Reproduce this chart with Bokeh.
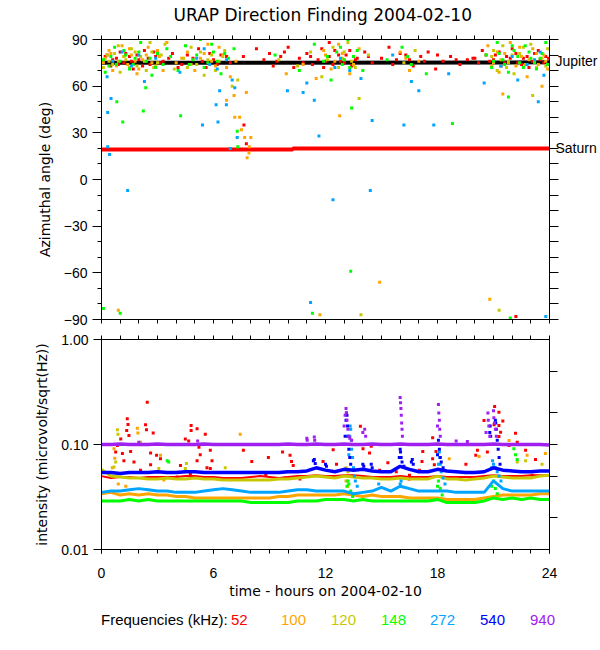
from bokeh.plotting import figure
from bokeh.models import FixedTicker, LinearAxis, LogAxis, PrintfTickFormatter, Div
from bokeh.core.properties import value
from bokeh.layouts import column
from bokeh.embed import file_html
from bokeh.resources import INLINE

FONT = "Liberation Sans"
WIDE = "DejaVu Sans"

# ---------------- data ----------------
title_text = "URAP Direction Finding  2004-02-10"
legend_title = "Frequencies (kHz):"
freq_labels = ["52", "100", "120", "148", "272", "540", "940"]
freq_colors = ["#ff0000", "#ffa500", "#c8c800", "#00ff00", "#00a5ff", "#0000ff", "#a020f0"]

# source directions (deg)
source_names = {76: "Jupiter", 20: "Saturn"}
jupiter_t = [0, 24]
jupiter_az = [75.0, 75.3]
saturn_t = [0, 10.25, 10.25, 24]
saturn_az = [19.3, 19.3, 20.0, 20.0]

# direction-finding points per frequency
az52_t = [0.1,0.3,0.5,0.8,1.0,1.2,1.5,1.7,2.0,2.3,2.6,2.9,3.3,3.8,4.3,4.9,5.2,5.6,6.0,6.4,6.9,7.6,8.3,8.7,9.2,9.6,10.0,10.3,10.6,11.0,11.3,11.6,11.9,12.2,12.5,12.8,13.1,13.4,13.7,14.1,14.5,15.0,15.4,15.8,16.3,16.7,17.1,17.5,17.9,18.3,18.7,19.2,19.6,20.0,20.4,20.8,21.1,21.4,21.7,22.0,22.3,22.6,22.9,23.2,23.5,23.8,7.63,7.76,22.2,12.2,9.0,19.9,
          0.2,0.6,0.9,1.3,1.6,1.9,2.2,2.5,2.8,3.1,3.6,4.1,4.6,5.4,5.8,6.2,6.7,9.4,9.8,10.8,11.2,11.8,12.0,12.4,12.7,13.0,13.3,13.6,14.3,15.6,16.0,16.5,17.3,18.0,19.0,20.2,20.6,21.0,21.3,21.6,21.9,22.2,22.5,22.8,23.1,23.4,23.7,23.95]
az52_a = [76,80,73,78,82,75,79,71,77,83,74,79,76,81,74,78,84,72,77,80,75,79,84,77,73,79,85,72,78,81,74,77,72,79,83,76,80,73,78,82,75,78,85,77,80,73,79,82,71,76,79,74,77,78,83,76,80,73,79,84,75,78,72,81,77,79,35,23,-88,88,81,78,
          79,77,74,81,76,80,73,78,82,75,78,72,80,76,81,74,79,76,82,75,79,84,76,74,80,75,83,77,79,74,81,77,76,80,77,75,80,77,82,75,78,81,74,79,76,83,75,78]
az100_t = [0.2,0.4,0.6,0.9,1.1,1.4,1.6,1.9,2.2,2.5,2.8,3.1,3.5,4.0,4.6,5.0,5.3,5.7,6.1,6.5,6.9,7.2,9.9,10.8,11.5,12.0,12.3,12.7,13.0,13.3,13.8,16.0,16.5,17.0,20.7,21.0,21.3,21.6,21.9,22.2,22.5,22.8,23.1,23.4,23.7,23.9,6.7,7.14,7.4,7.5,7.67,8.0,7.92,7.9,7.8,7.76,7.1,12.76,21.5,23.6,14.9,0.9,11.7,20.8,
           0.1,0.5,0.8,1.2,1.5,1.8,2.0,2.4,2.7,3.0,3.3,4.3,4.8,5.5,5.9,6.3,6.7,11.9,12.5,12.9,13.5,16.3,20.9,21.2,21.8,22.4,22.9,23.3,23.8]
az100_a = [78,83,70,76,86,74,80,68,77,85,72,79,88,75,82,70,78,87,73,80,66,76,68,74,65,80,71,87,77,68,84,82,70,76,86,75,69,81,88,73,79,66,84,74,80,71,51,40,40,32,27,27,21,17,14,56,54,41,55,60,-66,-84,-87,-77,
           75,81,73,79,84,76,71,80,75,83,70,78,74,81,76,85,72,83,76,81,74,78,73,82,75,85,77,81,76]
az120_t = [0.1,0.4,0.7,1.0,1.3,1.6,1.9,2.1,2.4,2.7,3.0,3.4,3.9,4.4,4.8,5.1,5.5,5.9,6.3,6.6,7.0,7.3,9.5,10.5,11.2,11.8,12.4,12.9,13.2,13.6,14.3,16.2,16.8,20.9,21.2,21.5,21.8,22.1,22.4,22.7,23.0,23.3,23.6,23.9,13.8,23.1,21.3,13.9,
           0.3,0.6,0.9,1.2,1.5,1.8,2.3,2.6,2.9,3.2,4.6,5.3,5.7,6.1,6.5,12.1,12.7,13.0,13.4,21.0,21.4,21.7,22.0,22.6,23.2,23.8]
az120_a = [72,76,81,69,77,84,73,79,70,82,75,87,71,78,85,74,67,80,76,83,60,64,77,73,82,66,85,78,88,72,80,75,83,79,70,86,76,68,81,74,87,72,78,84,52,54,-84,-87,
           80,74,86,79,72,82,76,88,73,80,72,82,77,70,79,77,72,82,76,83,77,72,80,85,76,73]
az148_t = [0.2,0.5,0.8,1.2,1.5,1.8,2.1,2.4,2.7,3.0,3.3,3.7,4.1,4.5,4.9,5.3,5.7,6.0,6.4,6.8,7.1,9.3,10.6,11.4,11.9,12.3,12.6,12.9,13.2,13.5,14.0,15.3,16.1,16.6,17.4,20.6,20.9,21.2,21.5,21.8,22.1,22.4,22.7,23.0,23.3,23.6,23.9,0.82,1.14,2.24,2.37,4.24,7.27,7.3,13.4,18.8,21.8,13.35,0.1,1.0,11.3,21.9,
           0.1,0.4,0.7,1.0,1.3,1.7,2.0,2.6,2.9,3.5,4.7,5.1,5.5,5.9,6.2,6.6,12.1,12.8,13.0,13.3,13.7,16.4,21.0,21.3,21.6,22.0,22.3,22.6,22.9,23.2,23.5,23.8]
az148_a = [69,79,74,83,71,78,88,76,67,81,74,79,70,86,77,90,75,82,68,78,84,80,70,87,76,64,82,74,90,79,70,77,85,74,68,80,72,88,77,69,83,75,86,78,71,81,74,50,37,44,59,41,31,21,46,36,53,-59,-83,-86,-86,-89,
           77,73,85,76,80,74,82,78,72,84,74,80,72,87,76,81,79,85,77,72,83,79,76,81,74,86,79,72,82,75,78,88]
az272_t = [0.3,1.1,1.6,2.3,2.9,4.2,5.5,6.2,6.7,7.0,11.0,12.5,13.9,15.6,18.6,20.5,21.4,22.3,23.2,23.7,0.33,0.43,0.33,0.51,1.4,5.41,6.24,6.14,6.69,6.33,7.14,7.27,6.9,9.96,10.8,11.4,11.65,12.4,14.4,14.5,16.2,16.6,17.0,17.8,23.4,11.2,23.8,
           0.6,2.0,5.1,5.8,12.8,13.3,22.0,22.8,23.5]
az272_a = [66,82,73,63,78,69,84,71,77,64,62,72,65,80,68,62,73,64,77,67,21,16,43,52,-7,35,37,48,48,57,59,27,20,57,56,51,28,-13,-7,38,35,63,57,35,50,-79,-88,
           76,80,78,74,78,70,79,74,82]

# intensity baselines, every half hour
t_base = [0,0.5,1,1.5,2,2.5,3,3.5,4,4.5,5,5.5,6,6.5,7,7.5,8,8.5,9,9.5,10,10.5,11,11.5,12,12.5,13,13.5,14,14.5,15,15.5,16,16.5,17,17.5,18,18.5,19,19.5,20,20.5,21,21.5,22,22.5,23,23.5,24]
base52 = [0.050,0.048,0.049,0.049,0.048,0.049,0.049,0.049,0.049,0.050,0.050,0.049,0.049,0.048,0.048,0.048,0.049,0.050,0.049,0.048,0.049,0.050,0.050,0.051,0.050,0.050,0.051,0.051,0.050,0.049,0.049,0.049,0.050,0.049,0.049,0.049,0.050,0.049,0.049,0.049,0.049,0.050,0.051,0.050,0.050,0.050,0.051,0.051,0.051]
base100 = [0.034,0.035,0.033,0.034,0.033,0.034,0.033,0.033,0.032,0.032,0.031,0.031,0.031,0.031,0.031,0.031,0.031,0.031,0.031,0.032,0.032,0.033,0.033,0.033,0.033,0.033,0.034,0.033,0.032,0.033,0.032,0.032,0.032,0.031,0.031,0.031,0.031,0.030,0.030,0.030,0.030,0.031,0.032,0.033,0.033,0.033,0.033,0.034,0.034]
base120 = [0.058,0.050,0.049,0.048,0.048,0.047,0.047,0.048,0.047,0.047,0.048,0.047,0.047,0.046,0.046,0.046,0.046,0.046,0.046,0.047,0.047,0.048,0.049,0.050,0.049,0.048,0.050,0.049,0.048,0.048,0.047,0.047,0.048,0.047,0.047,0.047,0.050,0.047,0.047,0.046,0.047,0.048,0.050,0.049,0.048,0.048,0.048,0.050,0.051]
base148 = [0.029,0.029,0.029,0.030,0.029,0.030,0.029,0.029,0.029,0.029,0.029,0.029,0.029,0.029,0.029,0.029,0.028,0.028,0.028,0.028,0.028,0.029,0.029,0.029,0.030,0.030,0.030,0.029,0.030,0.029,0.029,0.029,0.029,0.029,0.029,0.029,0.030,0.028,0.028,0.028,0.028,0.029,0.031,0.030,0.031,0.030,0.031,0.030,0.030]
base272 = [0.035,0.036,0.036,0.037,0.038,0.037,0.036,0.036,0.035,0.035,0.035,0.036,0.037,0.038,0.037,0.036,0.035,0.035,0.035,0.035,0.036,0.037,0.037,0.036,0.036,0.036,0.036,0.034,0.035,0.036,0.039,0.036,0.040,0.038,0.036,0.036,0.036,0.036,0.035,0.035,0.035,0.035,0.045,0.038,0.036,0.036,0.036,0.036,0.036]
base540 = [0.054,0.054,0.053,0.054,0.054,0.054,0.055,0.054,0.054,0.055,0.055,0.054,0.054,0.054,0.054,0.054,0.054,0.054,0.054,0.054,0.055,0.055,0.056,0.060,0.057,0.055,0.058,0.057,0.058,0.056,0.055,0.055,0.062,0.058,0.055,0.055,0.058,0.056,0.055,0.054,0.054,0.055,0.060,0.057,0.056,0.055,0.055,0.056,0.056]
base940 = [0.100,0.100,0.101,0.100,0.100,0.100,0.101,0.100,0.100,0.100,0.100,0.101,0.100,0.100,0.100,0.100,0.100,0.100,0.100,0.100,0.101,0.100,0.100,0.101,0.100,0.100,0.101,0.100,0.100,0.101,0.100,0.100,0.101,0.100,0.100,0.100,0.101,0.100,0.100,0.100,0.100,0.100,0.101,0.100,0.100,0.100,0.100,0.100,0.099]

# intensity outliers / bursts
pk52_t = [2.45,1.38,1.42,2.36,2.41,1.35,2.77,1.47,1.03,0.85,0.76,1.12,1.56,2.63,2.95,1.2,1.74,2.63,2.09,3.16,4.23,4.8,4.8,5.12,5.56,4.49,4.67,5.22,5.29,5.12,5.83,5.92,5.65,7.6,8.05,8.94,9.7,10.1,10.18,10.27,4.05,4.76,5.83,8.8,9.83,10.63,13.87,12.41,11.87,12.59,14.01,14.45,14.36,15.34,15.79,17.21,17.74,17.92,17.74,14.9,16.5,21.06,21.29,21.5,21.29,21.03,20.49,21.38,21.29,22.18,20.67,20.14,20.05,19.52,17.83,17.17,17.03,23.25,23.07,22.27,22.72,21.83,16.49,22.0]
pk52_v = [0.253,0.176,0.155,0.154,0.138,0.136,0.129,0.122,0.113,0.098,0.085,0.082,0.086,0.083,0.079,0.070,0.068,0.064,0.057,0.073,0.063,0.152,0.136,0.141,0.125,0.113,0.108,0.094,0.080,0.070,0.088,0.070,0.060,0.088,0.069,0.075,0.085,0.079,0.069,0.063,0.049,0.053,0.059,0.051,0.048,0.047,0.149,0.089,0.069,0.065,0.091,0.096,0.083,0.067,0.055,0.086,0.116,0.086,0.073,0.057,0.051,0.230,0.203,0.167,0.152,0.154,0.169,0.131,0.119,0.128,0.085,0.088,0.079,0.065,0.064,0.069,0.057,0.072,0.051,0.105,0.088,0.098,0.047,0.049]
pk100_t = [0.64,0.67,0.71,1.92,1.95,3.16,7.43,0.58,3.34,0.9,1.3,21.83,23.78,22.8,18.63,20.23,13.1,13.2]
pk100_v = [0.100,0.091,0.074,0.143,0.129,0.079,0.125,0.060,0.046,0.042,0.040,0.109,0.082,0.079,0.073,0.077,0.045,0.040]
pk120_t = [0.85,0.88,2.09,0.76,0.67,4.55,4.49,6.63,3.07,22.72,22.27,23.6,13.1,13.2]
pk120_v = [0.138,0.125,0.105,0.068,0.061,0.066,0.059,0.060,0.059,0.070,0.068,0.065,0.060,0.055]
pk148_t = [3.52,3.6,13.15,13.2,13.25,13.35,13.45,18.0,18.05,18.15,18.25,20.9,21.0,21.1,21.2,22.09,22.18,22.27]
pk148_v = [0.070,0.068,0.040,0.045,0.042,0.036,0.032,0.040,0.045,0.038,0.033,0.040,0.045,0.038,0.034,0.091,0.080,0.072]
pk272_t = [13.25,13.3,13.32,13.35,13.38,13.4,13.45,13.5,13.55,13.6,13.7,18.05,18.1,18.12,18.15,18.2,18.3,18.4,20.9,20.95,21.0,21.1,21.2,21.3,21.4,16.0,16.05,14.85]
pk272_v = [0.080,0.120,0.150,0.140,0.110,0.090,0.075,0.060,0.050,0.045,0.040,0.065,0.085,0.075,0.065,0.055,0.048,0.042,0.060,0.070,0.065,0.060,0.055,0.050,0.045,0.042,0.045,0.042]
pk540_t = [11.35,11.4,11.45,12.0,12.05,13.05,13.1,13.12,13.15,13.18,13.2,13.25,13.3,13.35,14.0,14.05,14.45,14.5,15.95,16.0,16.02,16.05,16.1,16.2,16.6,16.65,16.7,18.0,18.05,18.08,18.1,18.15,18.2,18.3,20.75,20.8,20.82,20.85,21.1,21.12,21.15,21.2,21.25,21.3,21.35]
pk540_v = [0.070,0.072,0.066,0.065,0.062,0.120,0.170,0.200,0.190,0.150,0.120,0.090,0.075,0.065,0.065,0.062,0.065,0.060,0.075,0.090,0.085,0.075,0.068,0.062,0.068,0.072,0.065,0.080,0.110,0.100,0.090,0.075,0.068,0.060,0.100,0.130,0.150,0.120,0.170,0.160,0.140,0.110,0.090,0.075,0.065]
pk940_t = [13.0,13.05,13.1,13.12,13.15,13.2,13.25,13.3,13.4,11.0,11.02,11.4,11.42,14.0,14.1,14.15,16.0,16.02,16.04,16.06,16.08,16.1,16.12,18.0,18.05,18.07,18.1,18.12,18.15,20.6,20.7,20.72,20.75,20.8,21.0,21.02,21.05,21.1,21.15,19.0,19.6,5.15,2.0]
pk940_v = [0.150,0.190,0.220,0.200,0.170,0.140,0.120,0.115,0.110,0.115,0.110,0.118,0.110,0.130,0.140,0.120,0.280,0.250,0.220,0.190,0.160,0.140,0.120,0.150,0.240,0.200,0.170,0.140,0.120,0.130,0.200,0.170,0.150,0.120,0.210,0.180,0.160,0.140,0.120,0.108,0.107,0.108,0.105]

hour_ticks = [0, 6, 12, 18, 24]
hour_minor = list(range(25))
az_ticks = [-90, -60, -30, 0, 30, 60, 90]
az_minor = [-80, -70, -50, -40, -20, -10, 10, 20, 40, 50, 70, 80]
az_right = [-90, -80, -70, -60, -50, -40, -30, -20, -10, 0, 10, 20, 30, 40, 50, 60, 70, 80, 90]
int_ticks = [0.01, 0.1, 1.0]
int_minor_right = [0.02, 0.05, 0.1, 0.2, 0.5]


def style_axis(ax):
    ax.axis_line_color = "black"
    ax.major_tick_line_color = "black"
    ax.minor_tick_line_color = "black"
    ax.major_tick_in = 0
    ax.minor_tick_in = 0
    ax.major_label_text_font = FONT
    ax.major_label_text_font_size = "14px"
    ax.major_label_text_color = "black"
    ax.axis_label_text_font = WIDE
    ax.axis_label_text_font_size = "14px"
    ax.axis_label_text_font_style = "normal"
    ax.axis_label_text_color = "black"


def bare_axis(cls, ticks, out):
    ax = cls(ticker=FixedTicker(ticks=[], minor_ticks=ticks))
    style_axis(ax)
    ax.minor_tick_out = out
    return ax


# ---------------- title strip ----------------
p0 = figure(width=600, height=28, x_range=(0, 24), y_range=(0, 1),
            toolbar_location=None, output_backend="svg",
            min_border_left=101, min_border_right=49, min_border_top=0, min_border_bottom=0,
            x_axis_location=None, y_axis_location=None)
p0.grid.visible = False
p0.outline_line_color = None
p0.text(x=[12], y=[0.5], text=[title_text], text_align="center", text_baseline="middle",
        text_font=value(WIDE), text_font_size="17px", text_color="black")

# ---------------- top panel ----------------
p1 = figure(width=600, height=301, x_range=(0, 24), y_range=(-90, 90),
            toolbar_location=None, output_backend="svg",
            min_border_left=101, min_border_right=49, min_border_top=11, min_border_bottom=10,
            x_axis_location=None)
p1.grid.visible = False
p1.outline_line_color = "black"

ly = p1.yaxis[0]
ly.ticker = FixedTicker(ticks=az_ticks, minor_ticks=az_minor)
style_axis(ly)
ly.major_tick_out = 9
ly.minor_tick_out = 4
ly.major_label_standoff = 5
ly.axis_label = "Azimuthal angle (deg)"
ly.axis_label_standoff = 8

ry = LinearAxis(ticker=FixedTicker(ticks=list(source_names.keys()), minor_ticks=az_right))
style_axis(ry)
ry.major_tick_out = 0
ry.minor_tick_out = 9
ry.major_label_standoff = -3
ry.major_label_overrides = source_names
p1.add_layout(ry, "right")
p1.add_layout(bare_axis(LinearAxis, hour_minor, 4), "above")
p1.add_layout(bare_axis(LinearAxis, hour_minor, 4), "below")

p1.line(jupiter_t, jupiter_az, line_color="black", line_width=4)
p1.line(saturn_t, saturn_az, line_color="#ff0000", line_width=4)

for tt, aa, col in [(az52_t, az52_a, freq_colors[0]), (az100_t, az100_a, freq_colors[1]),
                    (az120_t, az120_a, freq_colors[2]), (az148_t, az148_a, freq_colors[3]),
                    (az272_t, az272_a, freq_colors[4])]:
    p1.scatter(tt, aa, marker="square", size=3, fill_color=col, line_color=None)

# ---------------- bottom panel ----------------
p2 = figure(width=600, height=280, x_range=(0, 24), y_range=(0.01, 1.0), y_axis_type="log",
            toolbar_location=None, output_backend="svg",
            min_border_left=101, min_border_right=49, min_border_top=10, min_border_bottom=60)
p2.grid.visible = False
p2.outline_line_color = "black"

by = p2.yaxis[0]
by.ticker = FixedTicker(ticks=int_ticks, minor_ticks=[])
by.formatter = PrintfTickFormatter(format="%.2f")
style_axis(by)
by.major_tick_out = 8
by.major_label_standoff = 5
by.axis_label = "intensity (microvolt/sqrt(Hz))"
by.axis_label_standoff = 8

bx = p2.xaxis[0]
bx.ticker = FixedTicker(ticks=hour_ticks, minor_ticks=hour_minor)
style_axis(bx)
bx.major_tick_out = 4
bx.minor_tick_out = 4
bx.major_label_standoff = 14
bx.axis_label = "time - hours on 2004-02-10"
bx.axis_label_standoff = 2

p2.add_layout(bare_axis(LogAxis, int_minor_right, 8), "right")
p2.add_layout(bare_axis(LinearAxis, hour_minor, 4), "above")

bases = [base52, base100, base120, base148, base272, base540, base940]
peaks = [(pk52_t, pk52_v), (pk100_t, pk100_v), (pk120_t, pk120_v), (pk148_t, pk148_v),
         (pk272_t, pk272_v), (pk540_t, pk540_v), (pk940_t, pk940_v)]
widths = [2, 3, 3, 3, 3, 3.5, 3.5]
for b, (pt, pv), col, w in zip(bases, peaks, freq_colors, widths):
    p2.line(t_base, b, line_color=col, line_width=w)
    p2.scatter(pt, pv, marker="square", size=3, fill_color=col, line_color=None)

# ---------------- frequency legend ----------------
leg_left = [231, 281, 331, 381, 430, 480, 530]
spans = ['<span style="position:absolute;left:101px;top:0;color:black">%s</span>' % legend_title]
for lab, col, lx in zip(freq_labels, freq_colors, leg_left):
    spans.append('<span style="position:absolute;left:%dpx;top:0;color:%s">%s</span>' % (lx, col, lab))
legend_div = Div(
    text=('<div style="position:relative;width:600px;height:22px;font-family:\'Liberation Sans\';'
          'font-size:15px;line-height:22px;white-space:nowrap;">' + "".join(spans) + '</div>'),
    width=600, height=22, margin=(0, 0, 0, 0))

layout = column(p0, p1, p2, legend_div)
open("out.html", "w").write(file_html(layout, INLINE))
